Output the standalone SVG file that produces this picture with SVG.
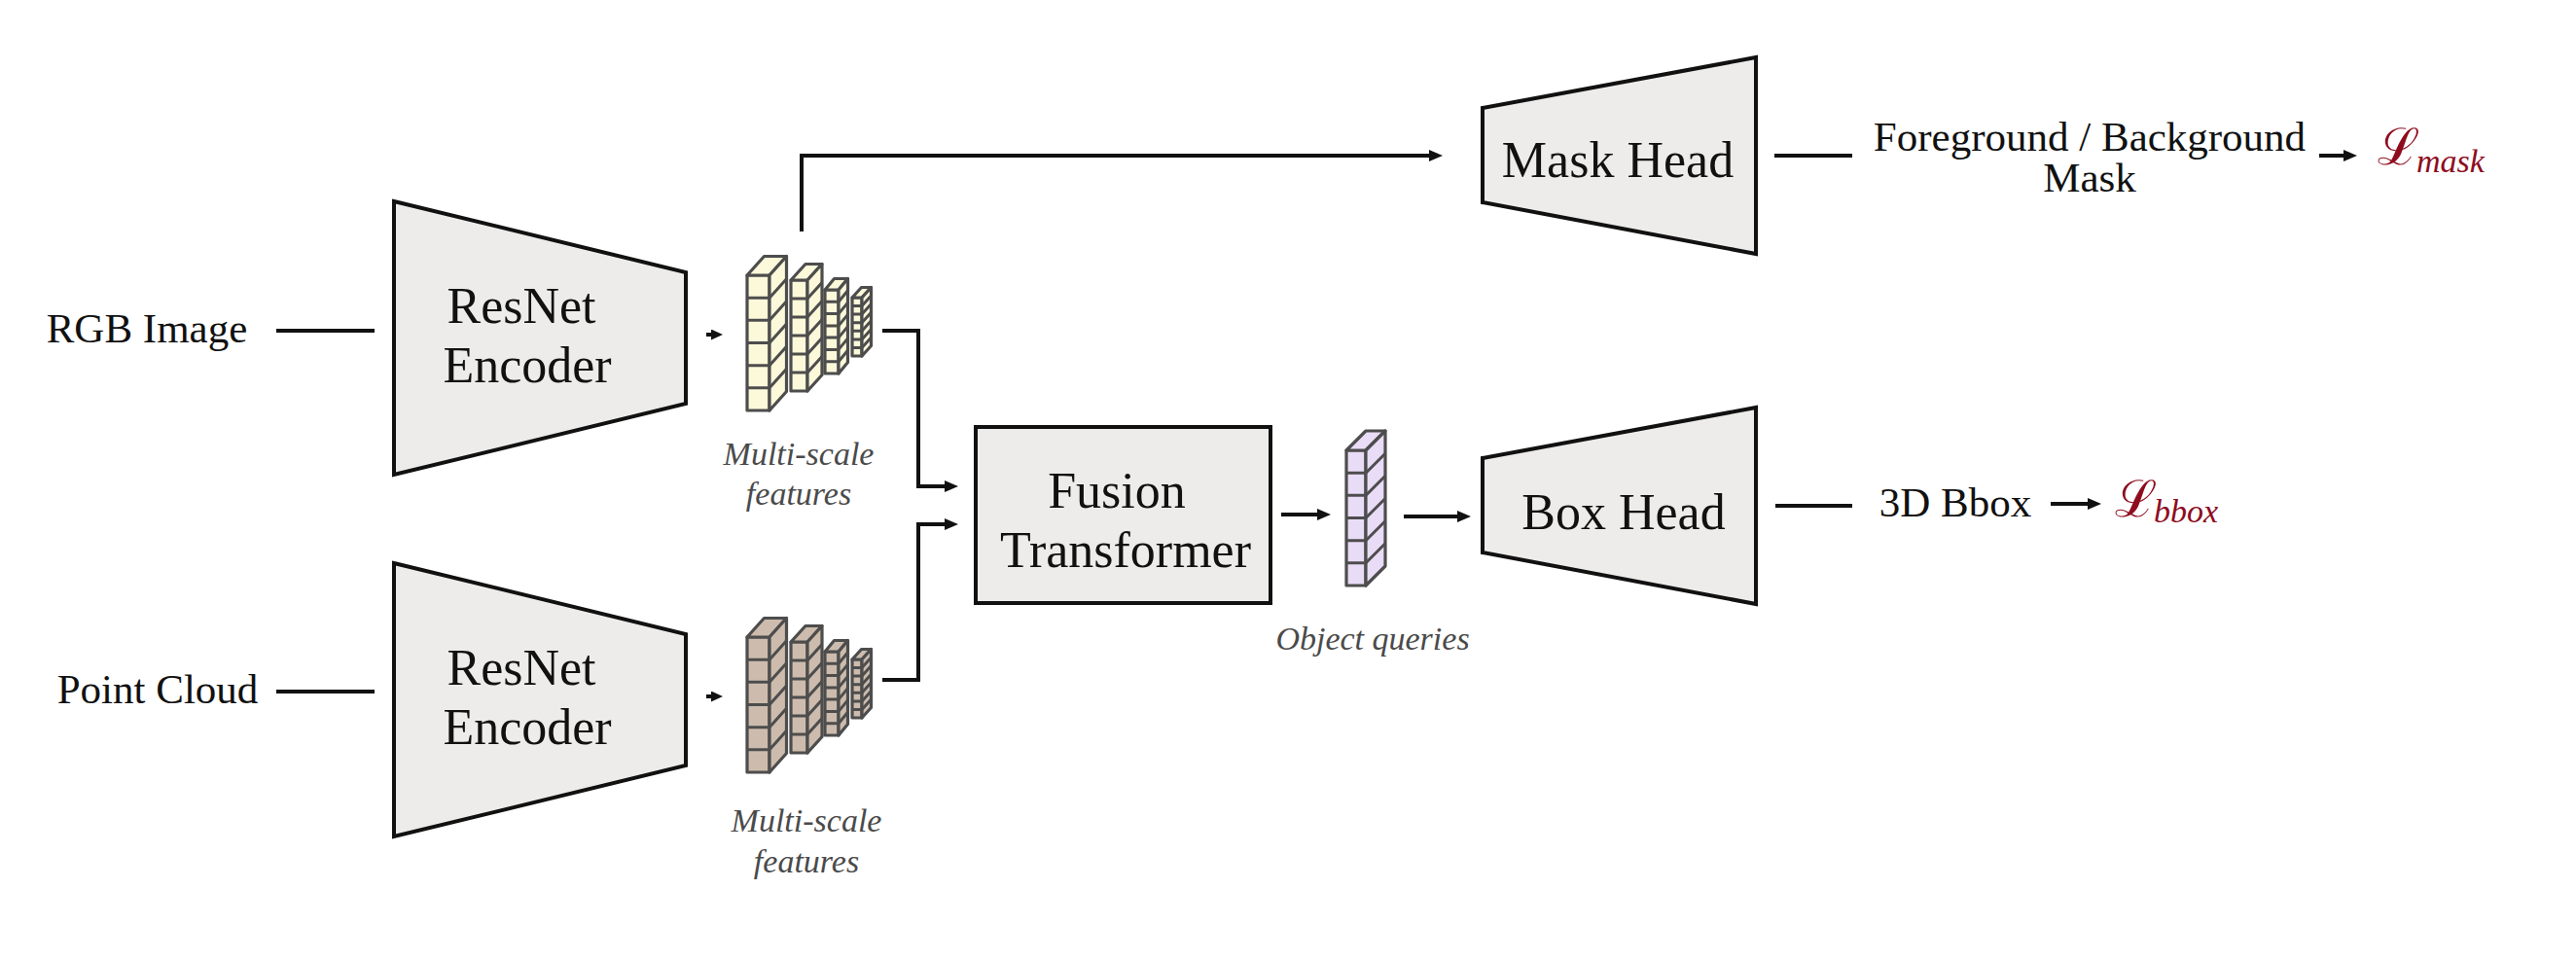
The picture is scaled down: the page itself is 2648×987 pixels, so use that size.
<svg xmlns="http://www.w3.org/2000/svg" xmlns:xlink="http://www.w3.org/1999/xlink" width="2648" height="987" viewBox="0 0 2648 987">
<defs>
<style>
.shape{fill:#edecea;stroke:#111;stroke-width:4;stroke-linejoin:miter}
.lbl{font-family:"Liberation Serif","Times New Roman",serif;font-size:43px;fill:#111;text-anchor:middle}
.big{font-family:"Liberation Serif","Times New Roman",serif;font-size:52px;fill:#111;text-anchor:middle}
.cap{font-family:"Liberation Serif","Times New Roman",serif;font-size:34px;font-style:italic;fill:#4a4a4a;text-anchor:middle}
.loss{font-family:"DejaVu Serif","Liberation Serif",serif;fill:#8e0c1e}
.sub{font-family:"Liberation Serif","Times New Roman",serif;font-style:italic;font-size:34px;fill:#8e0c1e}
.conn{fill:none;stroke:#111;stroke-width:4}
.feat{stroke:#4d4d4d;stroke-width:3.2;stroke-linejoin:round}
.fl{fill:none;stroke:#4d4d4d;stroke-width:3}
</style>
<marker id="ah" viewBox="0 0 14 12" refX="6" refY="6" markerWidth="14" markerHeight="12" markerUnits="userSpaceOnUse" orient="auto"><path d="M0 0L14 6L0 12Z" fill="#111"/></marker>
<marker id="ahs" viewBox="0 0 12 11" refX="6" refY="5.5" markerWidth="12" markerHeight="11" markerUnits="userSpaceOnUse" orient="auto"><path d="M0 0L12 5.5L0 11Z" fill="#111"/></marker>
<g id="stack">
<path class="feat" d="M768 283H791V422H768Z"/>
<path class="feat" d="M768 283L785.5 263.5H808.5L791 283Z"/>
<path class="feat" d="M791 283L808.5 263.5V402.5L791 422Z"/>
<path class="fl" d="M768 306.2H791M768 329.3H791M768 352.5H791M768 375.7H791M768 398.8H791M791 306.2l17.5 -19.5M791 329.3l17.5 -19.5M791 352.5l17.5 -19.5M791 375.7l17.5 -19.5M791 398.8l17.5 -19.5"/>
<path class="feat" d="M813 288H830V402H813Z"/>
<path class="feat" d="M813 288L828 271.5H845L830 288Z"/>
<path class="feat" d="M830 288L845 271.5V385.5L830 402Z"/>
<path class="fl" d="M813 307H830M813 326H830M813 345H830M813 364H830M813 383H830M830 307l15 -16.5M830 326l15 -16.5M830 345l15 -16.5M830 364l15 -16.5M830 383l15 -16.5"/>
<path class="feat" d="M848 298H862V384H848Z"/>
<path class="feat" d="M848 298L857.5 286.5H871.5L862 298Z"/>
<path class="feat" d="M862 298L871.5 286.5V372.5L862 384Z"/>
<path class="fl" d="M848 310.3H862M848 322.6H862M848 334.9H862M848 347.1H862M848 359.4H862M848 371.7H862M862 310.3l9.5 -11.5M862 322.6l9.5 -11.5M862 334.9l9.5 -11.5M862 347.1l9.5 -11.5M862 359.4l9.5 -11.5M862 371.7l9.5 -11.5"/>
<path class="feat" d="M876 306H886V366H876Z"/>
<path class="feat" d="M876 306L885.5 295.5H895.5L886 306Z"/>
<path class="feat" d="M886 306L895.5 295.5V355.5L886 366Z"/>
<path class="fl" d="M876 314.6H886M876 323.1H886M876 331.7H886M876 340.3H886M876 348.9H886M876 357.4H886M886 314.6l9.5 -10.5M886 323.1l9.5 -10.5M886 331.7l9.5 -10.5M886 340.3l9.5 -10.5M886 348.9l9.5 -10.5M886 357.4l9.5 -10.5"/>
</g>
</defs>
<rect width="2648" height="987" fill="#fff"/>

<g id="connectors">
<path class="conn" d="M284 340H385"/>
<path class="conn" d="M284 711H385"/>
<path class="conn" d="M726 344H737" marker-end="url(#ahs)"/>
<path class="conn" d="M726 716H737" marker-end="url(#ahs)"/>
<path class="conn" d="M907 340H944V500H977" marker-end="url(#ah)"/>
<path class="conn" d="M907 699H944V539H977" marker-end="url(#ah)"/>
<path class="conn" d="M824 238V160H1475" marker-end="url(#ah)"/>
<path class="conn" d="M1317 529H1360" marker-end="url(#ah)"/>
<path class="conn" d="M1443 531H1504" marker-end="url(#ah)"/>
<path class="conn" d="M1824 160H1904"/>
<path class="conn" d="M2384 160H2415" marker-end="url(#ah)"/>
<path class="conn" d="M1825 520H1904"/>
<path class="conn" d="M2108 518H2152" marker-end="url(#ah)"/>
</g>

<g id="rgb-image"><text class="lbl" x="151" y="352">RGB Image</text></g>
<g id="point-cloud"><text class="lbl" x="162" y="723">Point Cloud</text></g>

<g id="encoder-rgb">
<path class="shape" d="M405 207L705 280V415L405 488Z"/>
<text class="big" x="536" y="332">ResNet</text>
<text class="big" x="542" y="393">Encoder</text>
</g>
<g id="encoder-pc">
<path class="shape" d="M405 579L705 652V787L405 860Z"/>
<text class="big" x="536" y="704">ResNet</text>
<text class="big" x="542" y="765">Encoder</text>
</g>

<g id="features-rgb">
<use xlink:href="#stack" href="#stack" fill="#fcf8da"/>
<text class="cap" x="821" y="478">Multi-scale</text>
<text class="cap" x="821" y="519">features</text>
</g>
<g id="features-pc">
<use xlink:href="#stack" href="#stack" y="372" fill="#cdbcad"/>
<text class="cap" x="829" y="855">Multi-scale</text>
<text class="cap" x="829" y="897">features</text>
</g>

<g id="fusion-transformer">
<rect class="shape" x="1003" y="439" width="303" height="181"/>
<text class="big" x="1148" y="522">Fusion</text>
<text class="big" x="1157" y="583">Transformer</text>
</g>

<g id="object-queries">
<path class="feat" fill="#e9dcf6" d="M1384 463H1404V602H1384Z"/>
<path class="feat" fill="#e9dcf6" d="M1384 463L1404 443H1424L1404 463Z"/>
<path class="feat" fill="#e9dcf6" d="M1404 463L1424 443V582L1404 602Z"/>
<path class="fl" d="M1384 486.2H1404M1384 509.3H1404M1384 532.5H1404M1384 555.7H1404M1384 578.8H1404M1404 486.2l20 -20M1404 509.3l20 -20M1404 532.5l20 -20M1404 555.7l20 -20M1404 578.8l20 -20"/>
<text class="cap" x="1411" y="668">Object queries</text>
</g>

<g id="mask-head">
<path class="shape" d="M1524 111L1805 59V261L1524 208Z"/>
<text class="big" x="1663" y="182">Mask Head</text>
</g>
<g id="box-head">
<path class="shape" d="M1524 471L1805 419V621L1524 568Z"/>
<text class="big" x="1669" y="544">Box Head</text>
</g>

<g id="mask-output">
<text class="lbl" x="2148" y="155">Foreground / Background</text>
<text class="lbl" x="2148" y="197">Mask</text>
</g>
<g id="bbox-output"><text class="lbl" x="2010" y="531">3D Bbox</text></g>

<g id="loss-mask">
<text class="loss" x="2444" y="169" font-size="52">ℒ</text>
<text class="sub" x="2484" y="177">mask</text>
</g>
<g id="loss-bbox">
<text class="loss" x="2174" y="531" font-size="52">ℒ</text>
<text class="sub" x="2214" y="537">bbox</text>
</g>
</svg>
